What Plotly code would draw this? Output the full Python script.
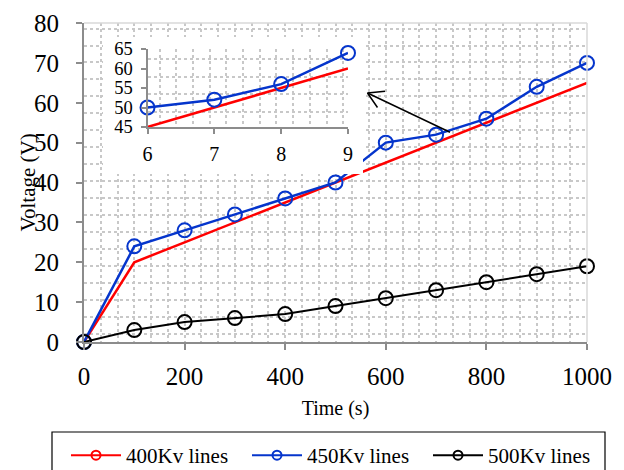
import plotly.graph_objects as go

# ---------------- data ----------------
time_s = [0, 100, 200, 300, 400, 500, 600, 700, 800, 900, 1000]
v400 = [0, 20, 25, 30, 35, 40, 45, 50, 55, 60, 65]
v450 = [0, 24, 28, 32, 36, 40, 50, 52, 56, 64, 70]
v500 = [0, 3, 5, 6, 7, 9, 11, 13, 15, 17, 19]
series_names = ["400Kv lines", "450Kv lines", "500Kv lines"]
x_ticks = [0, 200, 400, 600, 800, 1000]
y_ticks = [0, 10, 20, 30, 40, 50, 60, 70, 80]

# inset: zoom on 600..900 s (axis shown in hundreds of seconds)
inset_time = time_s[6:10]
inset_x = [t / 100 for t in inset_time]
inset_v400 = v400[6:10]
inset_v450 = v450[6:10]
inset_x_ticks = [6, 7, 8, 9]
inset_y_ticks = [45, 50, 55, 60, 65]

# ---------------- style ----------------
FONT = "Liberation Serif, Times New Roman, serif"
RED = "#FF0000"
BLUE = "#0535CC"
BLACK = "#000000"
AXIS = "#8C8C8C"
GRID = "#C8C8C8"
COLORS = [RED, BLUE, BLACK]


def marker_open(c, s=14):
    return dict(symbol="circle-open", size=s, color=c, line=dict(width=2, color=c))


fig = go.Figure()

# main traces
fig.add_trace(go.Scatter(x=time_s, y=v400, mode="lines", line=dict(color=RED, width=2.5),
                         showlegend=False, cliponaxis=False, hoverinfo="skip"))
fig.add_trace(go.Scatter(x=time_s, y=v450, mode="lines+markers", line=dict(color=BLUE, width=2.5),
                         marker=marker_open(BLUE), cliponaxis=False, showlegend=False))
fig.add_trace(go.Scatter(x=time_s, y=v500, mode="lines+markers", line=dict(color=BLACK, width=2),
                         marker=marker_open(BLACK), cliponaxis=False, showlegend=False))

# legend entries (line with small open circle, as in the reference legend)
for name, c in zip(series_names, COLORS):
    fig.add_trace(go.Scatter(x=[None], y=[None], mode="lines+markers", name=name,
                             line=dict(color=c, width=2), marker=marker_open(c, 9)))

# white box behind the inset (own subplot so its background covers the main traces)
fig.add_trace(go.Scatter(x=[None], y=[None], xaxis="x2", yaxis="y2", showlegend=False, hoverinfo="skip"))

# inset traces
fig.add_trace(go.Scatter(x=inset_x, y=inset_v400, xaxis="x3", yaxis="y3", mode="lines",
                         line=dict(color=RED, width=2.5), showlegend=False, cliponaxis=False))
fig.add_trace(go.Scatter(x=inset_x, y=inset_v450, xaxis="x3", yaxis="y3", mode="lines+markers",
                         line=dict(color=BLUE, width=2.5), marker=marker_open(BLUE),
                         showlegend=False, cliponaxis=False))

# page body has an 8px margin, so the figure is drawn 8px in from the window corner
OFF = 8
W, H = 624 - OFF, 470 - OFF
L, R, T, B = 84 - OFF, 37, 23 - OFF, 128
pw, ph = W - L - R, H - T - B
X0, Y0 = 84, 342  # absolute window pixels of plot-area left / bottom


def px_x(p):
    return (p - X0) / pw


def px_y(p):
    return (Y0 - p) / ph


def minor_grid(t0, dt):
    return dict(tick0=t0, dtick=dt, showgrid=True, gridcolor=GRID,
                griddash="dot", gridwidth=1.5, ticks="")


fig.update_layout(
    width=W, height=H,
    margin=dict(l=L, r=R, t=T, b=B, autoexpand=False),
    paper_bgcolor="white", plot_bgcolor="white",
    font=dict(family=FONT, color="black"),
    xaxis=dict(range=[0, 1000], tickvals=x_ticks, ticks="outside", ticklen=6, tickwidth=1.5,
               tickcolor=AXIS, showline=True, linecolor=AXIS, linewidth=2, zeroline=False,
               showgrid=True, gridcolor=GRID, griddash="dot", gridwidth=1.5,
               minor=minor_grid(0, 100 / 3), tickfont=dict(size=25), ticklabelstandoff=5,
               title=dict(text="Time (s)", font=dict(size=20), standoff=12)),
    yaxis=dict(range=[0, 80], tickvals=y_ticks, ticks="outside", ticklen=6, tickwidth=1.5,
               tickcolor=AXIS, showline=True, linecolor=AXIS, linewidth=2, zeroline=False,
               showgrid=False, minor=minor_grid(2.1, 4.25), tickfont=dict(size=25),
               ticklabelstandoff=12),
    xaxis2=dict(domain=[px_x(103), px_x(363)], anchor="y2", range=[0, 1], visible=False),
    yaxis2=dict(domain=[px_y(174), px_y(37)], anchor="x2", range=[0, 1], visible=False),
    xaxis3=dict(domain=[px_x(147.5), px_x(348)], anchor="y3", range=[6, 9], tickvals=inset_x_ticks,
                ticks="outside", ticklen=5, tickwidth=1.5, tickcolor=AXIS, showline=True,
                linecolor=AXIS, linewidth=2, zeroline=False, showgrid=False,
                minor=minor_grid(6.18, 0.25), tickfont=dict(size=20), ticklabelstandoff=3),
    yaxis3=dict(domain=[px_y(127), px_y(49)], anchor="x3", range=[45, 65], tickvals=inset_y_ticks,
                ticks="outside", ticklen=5, tickwidth=1.5, tickcolor=AXIS, showline=True,
                linecolor=AXIS, linewidth=2, zeroline=False, showgrid=False,
                minor=minor_grid(48.9, 4.5), tickfont=dict(size=18.5), ticklabelstandoff=4),
    legend=dict(orientation="h", x=px_x(66), xanchor="left", y=px_y(435), yanchor="top",
                borderwidth=0, font=dict(size=21), bgcolor="rgba(0,0,0,0)",
                itemwidth=50, entrywidth=116, entrywidthmode="pixels"),
    showlegend=True,
)

# y-axis title (placed like the reference, slightly overlapping the tick-label column)
fig.add_annotation(text="Voltage (V)", xref="paper", yref="paper", x=px_x(27), y=0.5,
                   xanchor="center", yanchor="middle", textangle=-90, showarrow=False,
                   font=dict(size=21))

# legend frame
fig.add_shape(type="rect", xref="paper", yref="paper", x0=px_x(52), x1=px_x(605),
              y0=px_y(490), y1=px_y(432), line=dict(color="black", width=1.2))

# light top/right border of the main plot area
fig.add_shape(type="line", xref="paper", yref="paper", x0=0, x1=1, y0=1, y1=1,
              line=dict(color="#D9D9D9", width=1.5))
fig.add_shape(type="line", xref="paper", yref="paper", x0=1, x1=1, y0=0, y1=1,
              line=dict(color="#D9D9D9", width=1.5))

# arrow pointing to the inset: shaft plus two open head strokes
tip = dict(x=px_x(367.5), y=px_y(93), xref="paper", yref="paper", text="", showarrow=True,
           arrowhead=0, arrowwidth=1.5, arrowcolor="black", standoff=0, startstandoff=0)
fig.add_annotation(**tip, ax=84, ay=40)
fig.add_annotation(**tip, ax=19, ay=-2)
fig.add_annotation(**tip, ax=11, ay=16)

fig.write_html("out.html")
